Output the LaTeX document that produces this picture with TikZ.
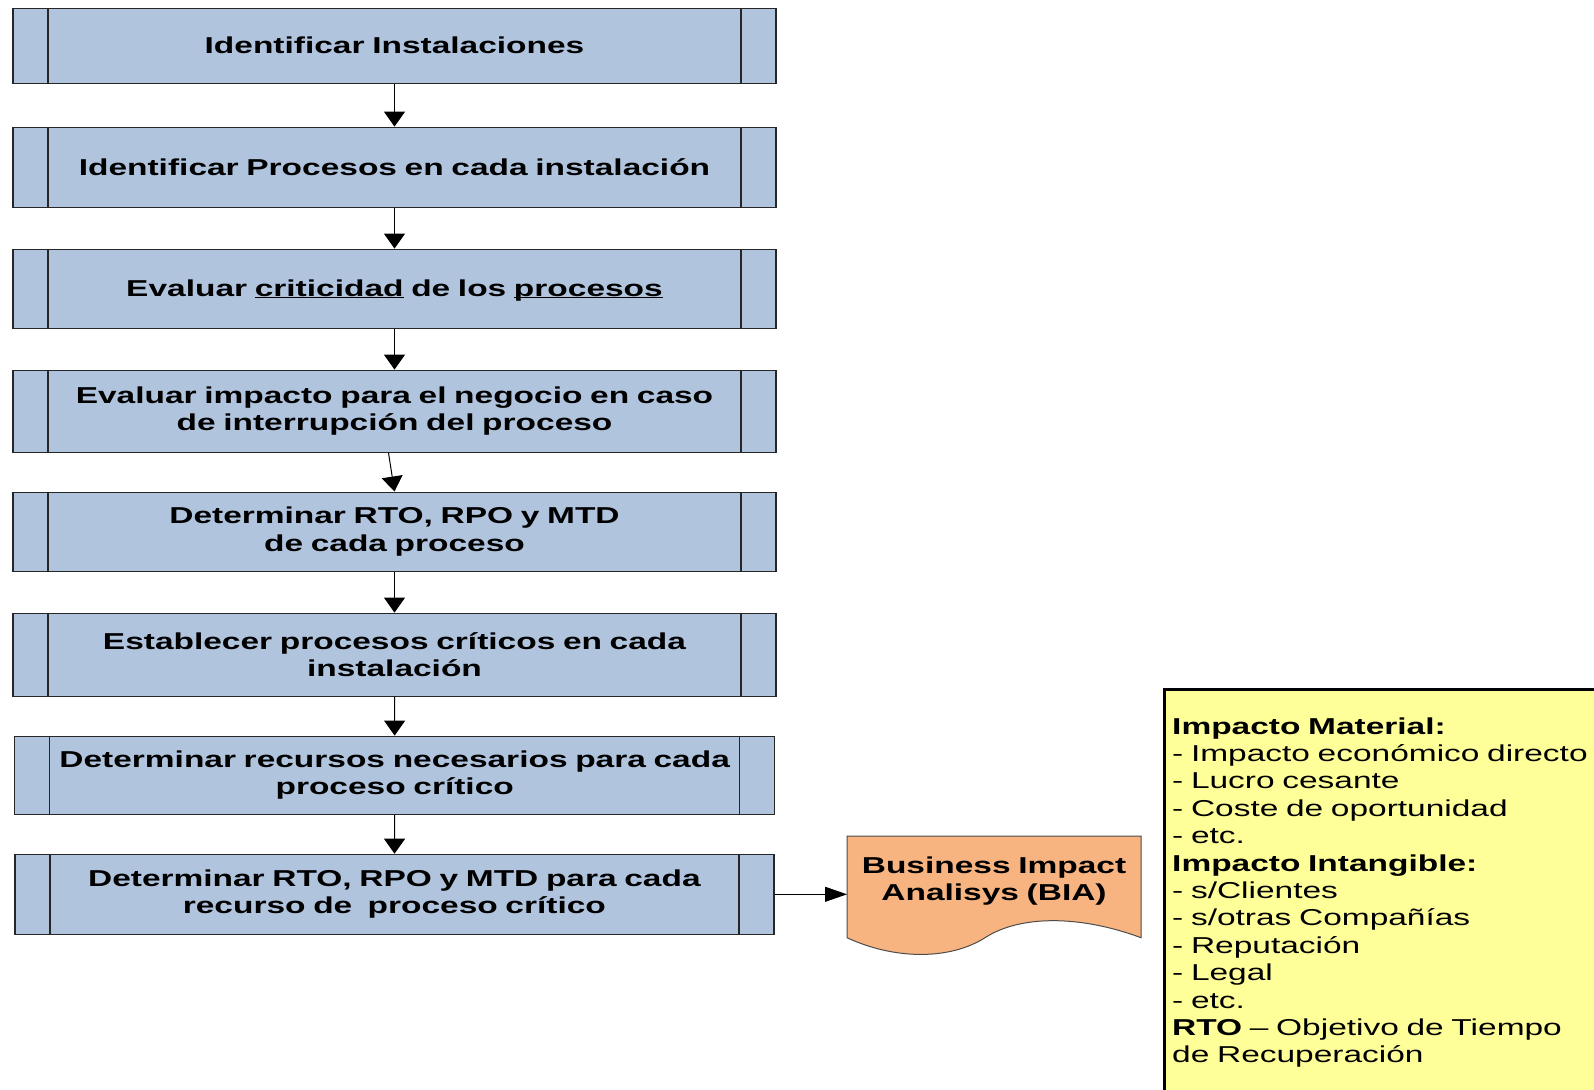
\documentclass[tikz,border=0pt]{standalone}
\usepackage{fontspec}
\setmainfont{Liberation Sans}[FakeStretch=1.455]
\usetikzlibrary{arrows.meta}

\definecolor{boxblue}{RGB}{176,196,222}
\definecolor{biaorange}{RGB}{248,180,128}
\definecolor{noteyellow}{RGB}{255,255,153}

\newcommand{\undl}[1]{\underline{\smash{#1}}}

\tikzset{
  procbox/.style={rectangle, draw=black!85, line width=1.2pt, fill=boxblue,
    minimum width=763pt, text width=690pt, align=center, inner sep=0pt,
    font=\fontsize{23}{27.3}\selectfont\bfseries,
    path picture={\draw[black!85, line width=1.2pt]
      ([xshift=35pt]path picture bounding box.north west) -- ([xshift=35pt]path picture bounding box.south west)
      ([xshift=-35pt]path picture bounding box.north east) -- ([xshift=-35pt]path picture bounding box.south east);}},
  biatext/.style={text width=290pt, align=center, inner sep=0pt,
    font=\fontsize{23}{26.5}\selectfont\bfseries},
  notebox/.style={rectangle, draw=black, line width=2.6pt, fill=noteyellow,
    minimum width=450pt, minimum height=420pt},
  notetext/.style={text width=430pt, align=left, inner sep=0pt,
    font=\fontsize{23}{27.4}\selectfont},
  flow/.style={-{Triangle[length=15pt,width=21pt]}, line width=1pt},
  sideflow/.style={-{Triangle[length=22pt,width=15pt]}, line width=1pt}
}

\begin{document}
\begin{tikzpicture}[x=1pt,y=-1pt]
\path[use as bounding box, fill=white] (0,0) rectangle (1594,1089);

\node[procbox, minimum height=75pt] (p1) at (394.5,45.7) {Identificar Instalaciones};
\node[procbox, minimum height=80pt] (p2) at (394.5,167.2) {Identificar Procesos en cada instalación};
\node[procbox, minimum height=79pt] (p3) at (394.5,288.7) {Evaluar \undl{criticidad} de los \undl{procesos}};
\node[procbox, minimum height=82pt] (p4) at (394.5,411.2) {Evaluar impacto para el negocio en caso\\de interrupción del proceso};
\node[procbox, minimum height=79pt] (p5) at (394.5,531.6) {Determinar RTO, RPO y MTD\\de cada proceso};
\node[procbox, minimum height=83pt] (p6) at (394.5,654.7) {Establecer procesos críticos en cada\\instalación};
\node[procbox, minimum height=78pt, minimum width=760pt] (p7) at (394.7,775.2) {Determinar recursos necesarios para cada\\proceso crítico};
\node[procbox, minimum height=80pt, minimum width=759pt] (p8) at (394.4,894.3) {Determinar RTO, RPO y MTD para cada\\recurso de~~proceso crítico};

\draw[flow] (p1) -- (p2);
\draw[flow] (p2) -- (p3);
\draw[flow] (p3) -- (p4);
\draw[flow] ([xshift=-6pt]p4.south) -- (p5.north);
\draw[flow] (p5) -- (p6);
\draw[flow] (p6) -- (p7);
\draw[flow] (p7) -- (p8);

\draw[draw=black!70, line width=1pt, fill=biaorange] (847,836) -- (1141,836) -- (1141,937.7)
  .. controls (1080,915) and (1020,915) .. (985,937.7)
  .. controls (950,960) and (895,960) .. (847,937.7) -- cycle;
\node[biatext] (bia) at (994,881) {Business Impact\\Analisys (BIA)};
\coordinate (biain) at (847,894.3);
\draw[sideflow] (p8.east) -- (biain);

\node[notebox, anchor=north west] (note) at (1163,688) {};
\node[notetext, anchor=base west] (notetxt) at (1172,734) {\textbf{Impacto Material:}\\- Impacto económico directo\\- Lucro cesante\\- Coste de oportunidad\\- etc.\\\textbf{Impacto Intangible:}\\- s/Clientes\\- s/otras Compañías\\- Reputación\\- Legal\\- etc.\\\textbf{RTO} – Objetivo de Tiempo\\de Recuperación};
\end{tikzpicture}
\end{document}
